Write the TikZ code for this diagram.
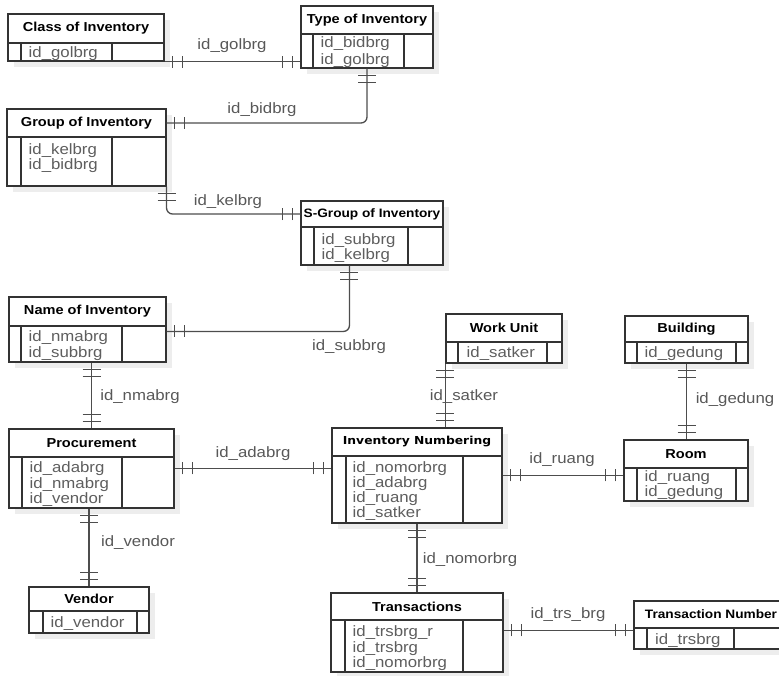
\documentclass[tikz,border=0pt]{standalone}
\usepackage{fontspec}
\usetikzlibrary{calc,decorations.markings}
\newfontfamily\erfont[FakeStretch=1.12]{Liberation Sans}
\newfontfamily\ernumfont[FakeStretch=1.12]{DejaVu Sans}
\definecolor{boxc}{HTML}{333333}
\definecolor{connc}{HTML}{4D4D4D}
\definecolor{attrc}{HTML}{5E5E5E}
\definecolor{lblc}{HTML}{585858}
\definecolor{shadowc}{HTML}{EDEDED}
\tikzset{
  hdr/.style={draw=boxc, fill=white, line width=1.1pt, inner sep=0pt, text=black,
    font=\erfont\bfseries\fontsize{13}{15}\selectfont},
  bodyb/.style={draw=boxc, fill=white, line width=1.1pt, inner sep=0pt},
  boxl/.style={draw=boxc, line width=1.1pt},
  attr/.style={inner sep=0pt, anchor=base west, text=attrc,
    font=\erfont\fontsize{15}{17}\selectfont},
  lbl/.style={inner sep=0pt, text=lblc, font=\erfont\fontsize{15}{17}\selectfont},
  conn/.style={draw=connc, line width=1.3pt},
  barl/.style={draw=connc, line width=1.3pt},
  sv/.style={postaction={decorate, decoration={markings,
     mark=at position 7pt with {\draw[barl] (0,-9pt) -- (0,9pt);},
     mark=at position 14pt with {\draw[barl] (0,-9pt) -- (0,9pt);}}}},
  ev/.style={postaction={decorate, decoration={markings,
     mark=at position -7pt with {\draw[barl] (0,-9pt) -- (0,9pt);},
     mark=at position -14pt with {\draw[barl] (0,-9pt) -- (0,9pt);}}}},
  sh/.style={postaction={decorate, decoration={markings,
     mark=at position 8pt with {\draw[barl] (0,-6pt) -- (0,6pt);},
     mark=at position 18pt with {\draw[barl] (0,-6pt) -- (0,6pt);}}}},
  eh/.style={postaction={decorate, decoration={markings,
     mark=at position -8pt with {\draw[barl] (0,-6pt) -- (0,6pt);},
     mark=at position -18pt with {\draw[barl] (0,-6pt) -- (0,6pt);}}}},
}
% #1 name, #2 x1, #3 y1, #4 x2, #5 header bottom, #6 y2, #7 stripe x, #8 column x, #9 title
\newcommand\ERent[9]{%
  \fill[shadowc] (#2+6,#3+6) rectangle (#4+6,#6+6);
  \node[hdr, minimum width={(#4-#2)*1pt}, minimum height={(#5-#3)*1pt}] (#1)
     at ({(#2+#4)/2},{(#3+#5)/2}) {#9};
  \node[bodyb, minimum width={(#4-#2)*1pt}, minimum height={(#6-#5)*1pt}] (#1-b)
     at ({(#2+#4)/2},{(#5+#6)/2}) {};
  \draw[boxl] (#7,#5) -- (#7,#6) (#8,#5) -- (#8,#6);
}
% #1 name, #2 x, #3 first baseline, #4 spacing, #5 list
\newcommand\ERattrs[5]{%
  \foreach \t [count=\i] in {#5} {\node[attr] (#1-a\i) at (#2,{#3+(\i-1)*#4}) {\t};}
}
\begin{document}
\begin{tikzpicture}[x=1pt,y=-1pt]
\useasboundingbox (0,0) rectangle (779,675);
\clip (0,0) rectangle (779,675);

\ERent{cls}{8}{14}{164}{43}{61}{21}{112}{Class of Inventory}
\ERattrs{cls}{28.5}{57}{15.3}{id\_golbrg}
\ERent{typ}{301}{6}{433}{34}{68}{313}{404}{Type of Inventory}
\ERattrs{typ}{320.5}{47.5}{17}{id\_bidbrg,id\_golbrg}
\ERent{grp}{7}{109}{166}{137}{186}{21}{112}{Group of Inventory}
\ERattrs{grp}{28.5}{154.5}{15.3}{id\_kelbrg,id\_bidbrg}
\ERent{sgr}{301}{201}{443}{227}{265}{314}{408}{\fontsize{12.2}{14}\selectfont S-Group of Inventory}
\ERattrs{sgr}{321.5}{244.5}{15.3}{id\_subbrg,id\_kelbrg}
\ERent{nam}{9}{297}{166}{326}{362}{21}{122}{Name of Inventory}
\ERattrs{nam}{28.5}{341.5}{15.5}{id\_nmabrg,id\_subbrg}
\ERent{pro}{9}{429}{174}{457}{508}{22}{122}{Procurement}
\ERattrs{pro}{29.5}{472.5}{15.5}{id\_adabrg,id\_nmabrg,id\_vendor}
\ERent{ven}{29}{587}{149}{611}{633}{43}{137}{Vendor}
\ERattrs{ven}{50.5}{627.5}{15.3}{id\_vendor}
\ERent{wrk}{446}{314}{562}{342}{363}{458}{547}{Work Unit}
\ERattrs{wrk}{466.5}{357.5}{15.3}{id\_satker}
\ERent{inv}{332}{428}{502}{456}{523}{346}{463}{\ernumfont\bfseries\fontsize{11}{13}\selectfont Inventory Numbering}
\ERattrs{inv}{352.5}{472.5}{15.1}{id\_nomorbrg,id\_adabrg,id\_ruang,id\_satker}
\ERent{bld}{625}{316}{748}{342}{363}{637}{736}{Building}
\ERattrs{bld}{644.5}{357.5}{15.3}{id\_gedung}
\ERent{rom}{624}{440}{748}{468}{501}{637}{736}{Room}
\ERattrs{rom}{644.5}{481.5}{15.1}{id\_ruang,id\_gedung}
\ERent{trs}{331}{593}{503}{620}{672}{345}{463}{Transactions}
\ERattrs{trs}{352.5}{636.5}{15.5}{id\_trsbrg\_r,id\_trsbrg,id\_nomorbrg}
\ERent{tnm}{634}{601}{788}{628}{649}{647}{734}{\fontsize{12.2}{14}\selectfont Transaction Number}
\ERattrs{tnm}{655}{644.5}{15.3}{id\_trsbrg}

% connectors
\draw[conn, sh, eh] (cls-b.south east) -- (typ-b.west |- cls-b.south east);
\node[lbl] (l1) at (232,46) {id\_golbrg};

\draw[conn, sv, eh, rounded corners=6pt] (typ-b.south) |- (grp.east);
\node[lbl] (l2) at (262,110) {id\_bidbrg};

\draw[conn, sv, eh, rounded corners=6pt] (grp-b.south east) |- (sgr.west);
\node[lbl] (l3) at (228,202) {id\_kelbrg};

\coordinate (sn1) at ($(sgr-b.south west)+(49,0)$);
\coordinate (sn2) at ($(nam-b.north east)+(0,6)$);
\draw[conn, sv, eh, rounded corners=6pt] (sn1) |- (sn2);
\node[lbl] (l4) at (349,347) {id\_subbrg};

\draw[conn, sv, ev] (nam-b.south -| pro.north) -- (pro.north);
\node[lbl] (l5) at (140,397) {id\_nmabrg};

\coordinate (pi) at ($(pro-b.north east)+(0,12)$);
\draw[conn, sh, eh] (pi) -- (inv-b.west |- pi);
\node[lbl] (l6) at (253,454) {id\_adabrg};

\draw[conn, sv, ev] (pro-b.south -| ven.north) -- (ven.north);
\node[lbl] (l7) at (138,543) {id\_vendor};

\draw[conn, sv, ev] (wrk-b.south west) -- (inv.north -| wrk-b.south west);
\node[lbl] (l8) at (464,397) {id\_satker};

\draw[conn, sv, ev] (bld-b.south) -- (rom.north -| bld-b.south);
\node[lbl] (l9) at (735,400) {id\_gedung};

\coordinate (ir) at ($(inv-b.north east)+(0,20)$);
\draw[conn, sh, eh] (ir) -- (rom-b.west |- ir);
\node[lbl] (l10) at (562,460) {id\_ruang};

\draw[conn, sv, ev] (inv-b.south) -- (trs.north -| inv-b.south);
\node[lbl] (l11) at (470,560) {id\_nomorbrg};

\coordinate (tt) at ($(trs-b.north east)+(0,11)$);
\draw[conn, sh, eh] (tt) -- (tnm-b.west |- tt);
\node[lbl] (l12) at (568,615) {id\_trs\_brg};
\end{tikzpicture}
\end{document}
